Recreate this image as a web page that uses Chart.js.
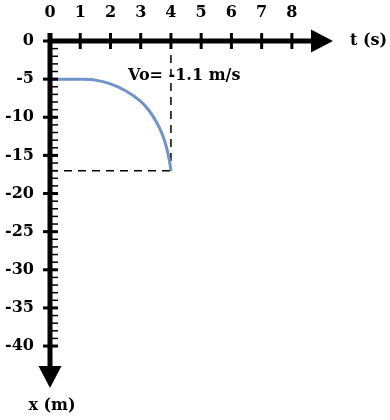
<!DOCTYPE html>
<html>
<head>
<meta charset="utf-8">
<script src="https://cdn.jsdelivr.net/npm/chart.js@4.4.1/dist/chart.umd.min.js"></script>
<style>
  html, body { margin: 0; padding: 0; background: #fff; }
  #wrap { width: 390px; height: 420px; }
</style>
</head>
<body>
<div id="wrap"><canvas id="posChart" width="390" height="420"></canvas></div>
<script>
// time (s) and position (m)
const times = [0, 0.5, 1, 1.5, 2, 2.5, 3, 3.25, 3.5, 3.7, 3.85, 3.95, 4];
const positions = [-5, -5, -5.02, -5.13, -5.63, -6.53, -7.93, -8.98, -10.5, -12.1, -13.9, -15.7, -17];

const tTicks = [0, 1, 2, 3, 4, 5, 6, 7, 8];
const xTicks = [0, -5, -10, -15, -20, -25, -30, -35, -40];
const xMinorTicks = [-1, -2, -3, -4, -6, -7, -8, -9, -11, -12, -13, -14, -16, -17, -18, -19,
  -21, -22, -23, -24, -26, -27, -28, -29, -31, -32, -33, -34, -36, -37, -38, -39];

const endT = 4;
const endX = -17;
const v0Label = 'Vo= -1.1 m/s';

const FONT = '"DejaVu Serif", "Liberation Serif", serif';

const axesPlugin = {
  id: 'axes',
  afterDraw(chart) {
    const c = chart.ctx;
    const xs = chart.scales.x, ys = chart.scales.y;
    const x0 = xs.getPixelForValue(0);
    const y0 = ys.getPixelForValue(0);
    const right = chart.chartArea.right;
    const bottom = chart.chartArea.bottom;
    c.save();
    c.fillStyle = '#000';
    c.strokeStyle = '#000';

    // horizontal axis + arrow
    c.lineWidth = 5;
    c.beginPath();
    c.moveTo(x0 - 2, y0);
    c.lineTo(right - 20, y0);
    c.stroke();
    c.beginPath();
    c.moveTo(right - 22, y0 - 11.5);
    c.lineTo(right, y0);
    c.lineTo(right - 22, y0 + 11.5);
    c.closePath();
    c.fill();

    // vertical axis + arrow
    c.beginPath();
    c.moveTo(x0, y0 - 8);
    c.lineTo(x0, bottom - 20);
    c.stroke();
    c.beginPath();
    c.moveTo(x0 - 11.5, bottom - 22);
    c.lineTo(x0, bottom);
    c.lineTo(x0 + 11.5, bottom - 22);
    c.closePath();
    c.fill();

    // tick marks
    c.lineWidth = 3;
    tTicks.forEach(v => {
      const px = xs.getPixelForValue(v);
      c.beginPath();
      c.moveTo(px, y0 - 8);
      c.lineTo(px, y0 + 8);
      c.stroke();
    });
    xTicks.forEach(v => {
      const py = ys.getPixelForValue(v);
      c.beginPath();
      c.moveTo(x0 - 7, py);
      c.lineTo(x0 + 8, py);
      c.stroke();
    });
    c.lineWidth = 1.5;
    xMinorTicks.forEach(v => {
      const py = ys.getPixelForValue(v);
      c.beginPath();
      c.moveTo(x0, py);
      c.lineTo(x0 + 8, py);
      c.stroke();
    });

    // axis titles and annotation
    c.font = 'bold 16px ' + FONT;
    c.textBaseline = 'middle';
    c.textAlign = 'left';
    c.fillText('t (s)', right + 17, y0);
    c.textAlign = 'center';
    c.fillText('x (m)', x0 + 2, bottom + 18);
    c.textAlign = 'left';
    c.fillText(v0Label, xs.getPixelForValue(2.58), ys.getPixelForValue(-4.6));
    c.restore();
  }
};

new Chart(document.getElementById('posChart'), {
  type: 'line',
  data: {
    datasets: [
      {
        data: times.map((t, i) => ({ x: t, y: positions[i] })),
        borderColor: '#7093c8',
        borderWidth: 3,
        pointRadius: 0,
        cubicInterpolationMode: 'monotone',
        fill: false
      },
      {
        data: [{ x: endT, y: 0 }, { x: endT, y: endX }],
        borderColor: '#000',
        borderWidth: 1.5,
        borderDash: [8, 6],
        pointRadius: 0
      },
      {
        data: [{ x: 0, y: endX }, { x: endT, y: endX }],
        borderColor: '#000',
        borderWidth: 1.5,
        borderDash: [8, 6],
        pointRadius: 0
      }
    ]
  },
  options: {
    responsive: false,
    animation: false,
    events: [],
    layout: { padding: { left: 0, top: 0, right: 57, bottom: 32 } },
    plugins: { legend: { display: false }, tooltip: { enabled: false } },
    scales: {
      x: {
        type: 'linear',
        position: 'top',
        min: 0,
        max: 9.36,
        grid: { display: false },
        border: { display: false },
        afterBuildTicks: s => { s.ticks = tTicks.map(v => ({ value: v })); },
        afterFit: s => { s.height = 41; },
        ticks: { padding: 11, color: '#000', font: { family: FONT, size: 16, weight: 'bold' } }
      },
      y: {
        type: 'linear',
        min: -45.5,
        max: 0,
        grid: { display: false },
        border: { display: false },
        afterBuildTicks: s => { s.ticks = xTicks.map(v => ({ value: v })); },
        afterFit: s => { s.width = 50; },
        ticks: { padding: 8, color: '#000', font: { family: FONT, size: 16, weight: 'bold' } }
      }
    }
  },
  plugins: [axesPlugin]
});
</script>
</body>
</html>
